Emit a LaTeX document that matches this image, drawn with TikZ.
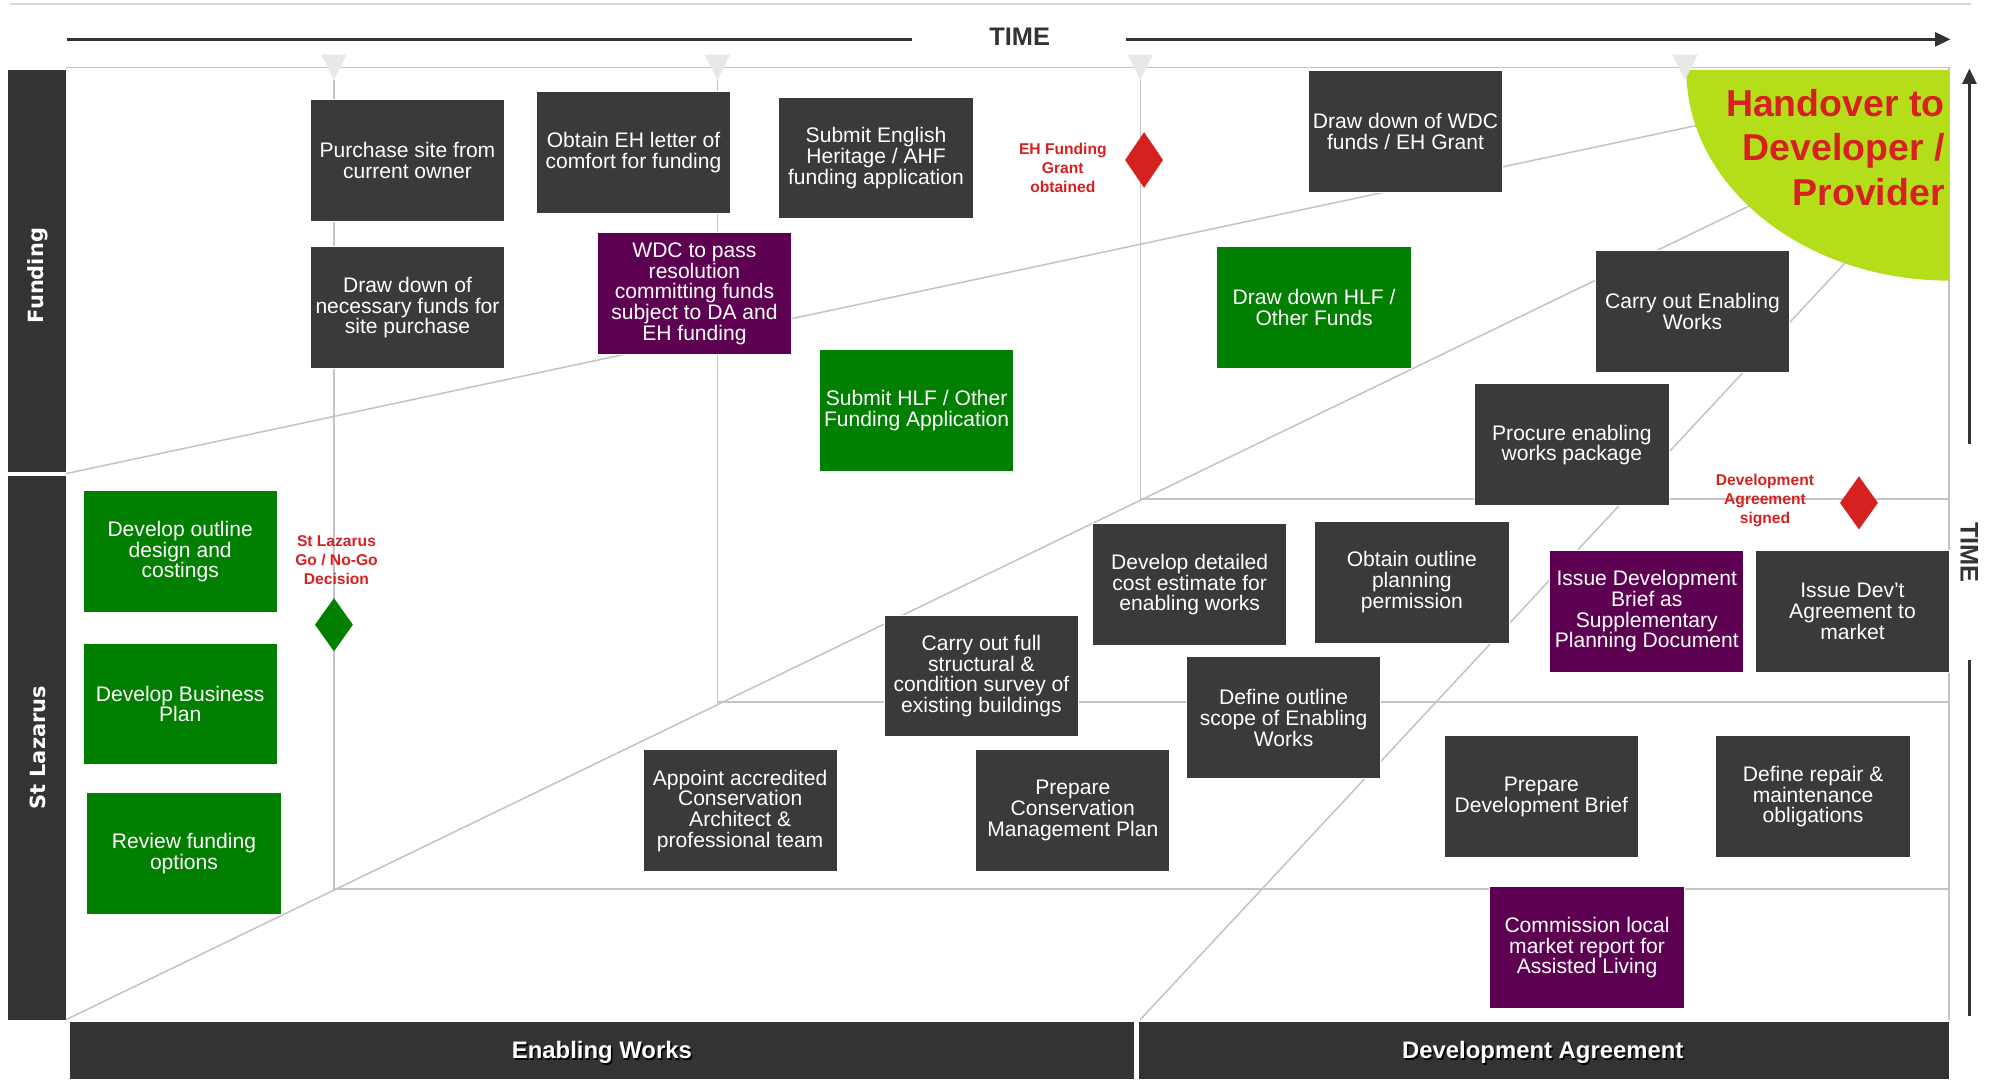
\documentclass[tikz,border=0pt]{standalone}
\usepackage{fontspec}
\setmainfont{Liberation Sans}
\newfontfamily\lanefont{DejaVu Sans}
\usetikzlibrary{shapes.geometric,arrows.meta}
\definecolor{boxdark}{HTML}{3A3A3C}
\definecolor{bardark}{HTML}{333333}
\definecolor{boxgreen}{HTML}{007F00}
\definecolor{boxpurple}{HTML}{5E0052}
\definecolor{msred}{HTML}{D62121}
\definecolor{limefill}{HTML}{B5DE1A}
\definecolor{gridgray}{HTML}{C4C4C4}
\definecolor{trigray}{HTML}{E8E8E8}
\begin{document}
\begin{tikzpicture}[x=1pt,y=-1pt,
  gridline/.style={draw=gridgray, line width=1.2pt},
  tri/.style={fill=trigray},
  taskbox/.style={draw=white, line width=0.8pt, text=white, minimum width=153pt, minimum height=96pt, inner sep=1pt, align=center, font=\fontsize{16.6}{16.3}\selectfont, anchor=north west},
  taskdark/.style={taskbox, fill=boxdark},
  taskgreen/.style={taskbox, fill=boxgreen},
  taskpurple/.style={taskbox, fill=boxpurple},
  lanebar/.style={fill=bardark},
  lanetext/.style={text=white, font=\lanefont\bfseries\fontsize{16.5}{16.5}\selectfont, rotate=90},
  phasetext/.style={text=white, font=\bfseries\fontsize{18.8}{18.8}\selectfont},
  phaseshadow/.style={text=black, font=\bfseries\fontsize{18.8}{18.8}\selectfont},
  timetext/.style={text=bardark, font=\bfseries\fontsize{20}{20}\selectfont},
  timeline/.style={draw=bardark, line width=2pt},
  mslabel/.style={text=msred, font=\bfseries\fontsize{12.3}{15}\selectfont, align=center},
  msdiamond/.style={diamond, inner sep=0pt, minimum width=30pt, minimum height=44pt},
  handtext/.style={text=msred, font=\bfseries\fontsize{29.5}{35}\selectfont, align=right},
]
\useasboundingbox (0,0) rectangle (1568,850);
\fill[white] (0,0) rectangle (1568,850);

% very top light line
\coordinate (tt0) at (8,3); \coordinate (tt1) at (1552,3);
\draw[draw=gridgray!70, line width=1.2pt] (tt0) -- (tt1);

% grid coordinates
\coordinate (g0) at (52,53); \coordinate (g1) at (1535,53);
\coordinate (r1) at (1535,803);
\coordinate (va0) at (263,63); \coordinate (va1) at (263,700); \coordinate (va2) at (1535,700);
\coordinate (vb0) at (565,63); \coordinate (vb1) at (565,553); \coordinate (vb2) at (1535,553);
\coordinate (vc0) at (898,63); \coordinate (vc1) at (898,393); \coordinate (vc2) at (1535,393);
\coordinate (da0) at (52,373); \coordinate (da1) at (1340,98);
\coordinate (db0) at (52,803); \coordinate (db1) at (1380,161);
\coordinate (dc0) at (898,803); \coordinate (dc1) at (1455,205);

\draw[gridline] (g0) -- (g1) -- (r1);
\draw[gridline] (va0) -- (va1) -- (va2);
\draw[gridline] (vb0) -- (vb1) -- (vb2);
\draw[gridline] (vc0) -- (vc1) -- (vc2);
\draw[gridline] (da0) -- (da1);
\draw[gridline] (db0) -- (db1);
\draw[gridline] (dc0) -- (dc1);

% handover shape
\fill[limefill] (1328,55) .. controls (1328,146.7) and (1420.7,221) .. (1535,221) -- (1535,55) -- cycle;
\node[handtext, anchor=east] (handover) at (1535,116) {Handover to\\Developer /\\Provider};

% triangles
\foreach \tx in {263,565,898,1327}{
  \fill[tri] (\tx-10,43) -- (\tx+10,43) -- (\tx,63) -- cycle;
}

% TIME arrows
\node[timetext] (timetop) at (803,29) {TIME};
\coordinate (ta0) at (53,31); \coordinate (ta1) at (718,31);
\coordinate (ta2) at (887,31); \coordinate (ta3) at (1536,31);
\draw[timeline] (ta0) -- (ta1);
\draw[timeline, -{Triangle[length=12pt,width=11pt]}] (ta2) -- (ta3);
\node[timetext, rotate=-90] (timeright) at (1551,435) {TIME};
\coordinate (tr0) at (1551,350); \coordinate (tr1) at (1551,54);
\coordinate (tr2) at (1551,520); \coordinate (tr3) at (1551,800);
\draw[timeline, -{Triangle[length=12pt,width=11pt]}] (tr0) -- (tr1);
\draw[timeline] (tr2) -- (tr3);

% lane bars
\fill[lanebar] (6,55) rectangle (52,372);
\fill[lanebar] (6,375) rectangle (52,803);
\node[lanetext] (lanefund) at (30,217) {Funding};
\node[lanetext] (lanestl) at (30,589) {St Lazarus};

% phase bars
\fill[lanebar] (55,805) rectangle (893,850);
\fill[lanebar] (897,805) rectangle (1535,850);
\node[phaseshadow] at (475.2,830.2) {Enabling Works};
\node[phasetext] (phaseew) at (474,829) {Enabling Works};
\node[phaseshadow] at (1216.2,830.2) {Development Agreement};
\node[phasetext] (phaseda) at (1215,829) {Development Agreement};

% Funding lane tasks
\node[taskdark] (purchase) at (244,78) {Purchase site from\\current owner};
\node[taskdark] (drawsite) at (244,194) {Draw down of\\necessary funds for\\site purchase};
\node[taskdark] (ehletter) at (422,72) {Obtain EH letter of\\comfort for funding};
\node[taskpurple] (wdcres) at (470,183) {WDC to pass\\resolution\\committing funds\\subject to DA and\\EH funding};
\node[taskdark] (submiteh) at (613,76) {Submit English\\Heritage / AHF\\funding application};
\node[taskgreen] (submithlf) at (645,275) {Submit HLF / Other\\Funding Application};
\node[taskdark] (drawwdc) at (1030,55) {Draw down of WDC\\funds / EH Grant};
\node[taskgreen] (drawhlf) at (958,194) {Draw down HLF /\\Other Funds};
\node[taskdark] (enabling) at (1256,197) {Carry out Enabling\\Works};
\node[taskdark] (procure) at (1161,302) {Procure enabling\\works package};

% St Lazarus lane tasks
\node[taskgreen] (outline) at (65,386) {Develop outline\\design and\\costings};
\node[taskgreen] (business) at (65,506) {Develop Business\\Plan};
\node[taskgreen] (review) at (68,624) {Review funding\\options};
\node[taskdark] (appoint) at (506,590) {Appoint accredited\\Conservation\\Architect \&\\professional team};
\node[taskdark] (survey) at (696,484) {Carry out full\\structural \&\\condition survey of\\existing buildings};
\node[taskdark] (costest) at (860,412) {Develop detailed\\cost estimate for\\enabling works};
\node[taskdark] (planning) at (1035,410) {Obtain outline\\planning\\permission};
\node[taskdark] (scope) at (934,517) {Define outline\\scope of Enabling\\Works};
\node[taskdark] (cmp) at (768,590) {Prepare\\Conservation\\Management Plan};
\node[taskpurple] (spd) at (1220,433) {Issue Development\\Brief as\\Supplementary\\Planning Document};
\node[taskdark] (market) at (1382,433) {Issue Dev’t\\Agreement to\\market};
\node[taskdark] (devbrief) at (1137,579) {Prepare\\Development Brief};
\node[taskdark] (repair) at (1351,579) {Define repair \&\\maintenance\\obligations};
\node[taskpurple] (commission) at (1173,698) {Commission local\\market report for\\Assisted Living};

% milestones
\node[msdiamond, fill=msred] (msgrant) at (901,126) {};
\node[mslabel] (msgrantlbl) at (837,132) {EH Funding\\Grant\\obtained};
\node[msdiamond, fill=boxgreen, minimum height=42pt] (msgo) at (263,492) {};
\node[mslabel] (msgolbl) at (265,441) {St Lazarus\\Go / No-Go\\Decision};
\node[msdiamond, fill=msred, minimum height=42pt] (msda) at (1464,396) {};
\node[mslabel] (msdalbl) at (1390,394) {Development\\Agreement\\signed};
\end{tikzpicture}
\end{document}
